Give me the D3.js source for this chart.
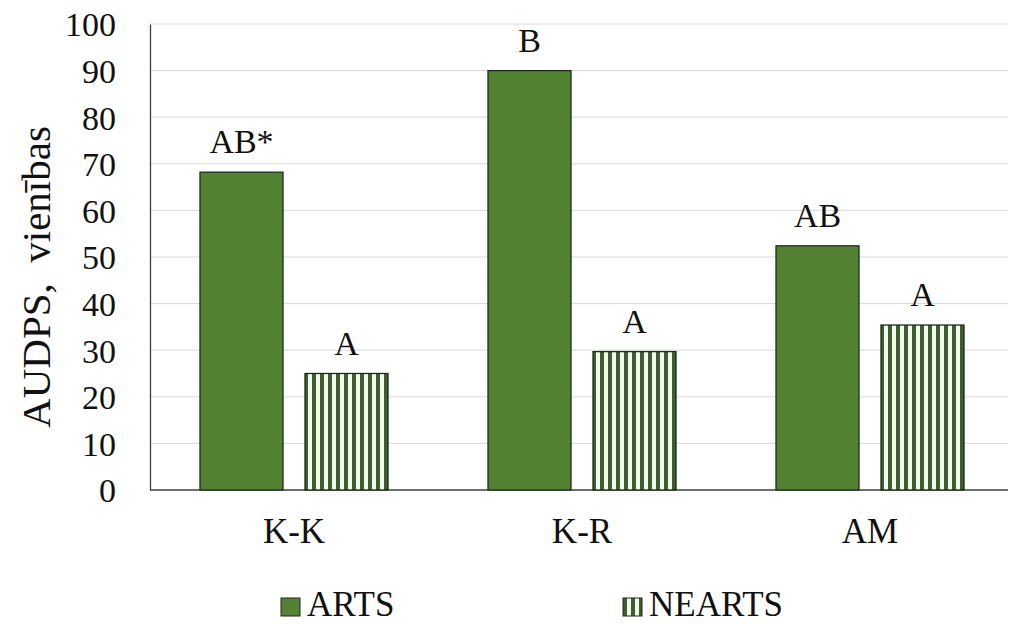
<!DOCTYPE html>
<html>
<head>
<meta charset="utf-8">
<script src="https://cdn.jsdelivr.net/npm/d3@7"></script>
<style>
  html, body { margin: 0; padding: 0; background: #fff; }
  svg { display: block; }
  text { font-family: "Liberation Serif", "Times New Roman", serif; fill: #111; }
</style>
</head>
<body>
<svg id="chart" width="1013" height="624"></svg>
<script>
// Data
const categories = ["K-K", "K-R", "AM"];
const seriesNames = ["ARTS", "NEARTS"];
const artsValues = [68.2, 90, 52.4];
const neartsValues = [25, 29.7, 35.4];
const artsLabels = ["AB*", "B", "AB"];
const neartsLabels = ["A", "A", "A"];
const yTicks = [0, 10, 20, 30, 40, 50, 60, 70, 80, 90, 100];

const FONT = '"Liberation Serif", "Times New Roman", serif';
const svg = d3.select("#chart");

const x = d3.scaleBand().domain(categories).range([150, 1014]).paddingInner(0).paddingOuter(0);
const y = d3.scaleLinear().domain([0, 100]).range([490, 24]);

const barW = 83, gap = 22;

// Vertical stripe fill for NEARTS
const defs = svg.append("defs");
const pat = defs.append("pattern")
  .attr("id", "vstripes")
  .attr("patternUnits", "userSpaceOnUse")
  .attr("width", 8).attr("height", 8);
pat.append("rect").attr("width", 8).attr("height", 8).attr("fill", "#f3f9ef");
pat.append("rect").attr("x", 0).attr("width", 4).attr("height", 8).attr("fill", "#3d5f2d");

// Gridlines
svg.append("g")
  .selectAll("line")
  .data(yTicks.filter(d => d > 0))
  .join("line")
  .attr("x1", 150).attr("x2", 1008)
  .attr("y1", d => y(d)).attr("y2", d => y(d))
  .attr("stroke", "#d9d9d9").attr("stroke-width", 1);

// Y axis
const yAxis = d3.axisLeft(y).tickValues(yTicks).tickSize(0);
const gy = svg.append("g").attr("transform", "translate(150,0)").call(yAxis);
gy.attr("font-family", null).attr("font-size", null);
gy.select(".domain").attr("stroke", "#404040").attr("stroke-width", 1.3);
gy.selectAll("text")
  .style("font-family", FONT)
  .style("font-size", "34px").attr("fill", "#111")
  .attr("text-anchor", "end").attr("x", -34).attr("dy", "0.35em");

// X axis
const xAxis = d3.axisBottom(x).tickSize(0);
const gx = svg.append("g").attr("transform", "translate(0,490)").call(xAxis);
gx.attr("font-family", null).attr("font-size", null);
gx.select(".domain").remove();
svg.append("line").attr("x1", 150).attr("x2", 1008).attr("y1", 490).attr("y2", 490)
  .attr("stroke", "#404040").attr("stroke-width", 1.3);
gx.selectAll("text")
  .style("font-family", FONT)
  .style("font-size", "35px").attr("fill", "#111")
  .attr("y", 53).attr("dy", null);

// Bars
const groupW = barW * 2 + gap;
const rows = categories.map((c, i) => ({ c, i }));
const xArts = d => x(d.c) + x.bandwidth() / 2 - groupW / 2;
const xNearts = d => xArts(d) + barW + gap;

svg.append("g").selectAll("rect")
  .data(rows).join("rect")
  .attr("x", d => xArts(d)).attr("width", barW)
  .attr("y", d => y(artsValues[d.i])).attr("height", d => y(0) - y(artsValues[d.i]))
  .attr("fill", "#548235").attr("stroke", "#1f2a18").attr("stroke-width", 1.3);

svg.append("g").selectAll("rect")
  .data(rows).join("rect")
  .attr("x", d => xNearts(d)).attr("width", barW)
  .attr("y", d => y(neartsValues[d.i])).attr("height", d => y(0) - y(neartsValues[d.i]))
  .attr("fill", "url(#vstripes)").attr("stroke", "#1f2a18").attr("stroke-width", 1.3);

// Significance letters above bars
svg.append("g").selectAll("text")
  .data(rows).join("text")
  .attr("x", d => xArts(d) + barW / 2)
  .attr("y", d => y(artsValues[d.i]) - 19)
  .attr("text-anchor", "middle").style("font-size", "34px")
  .text(d => artsLabels[d.i]);

svg.append("g").selectAll("text")
  .data(rows).join("text")
  .attr("x", d => xNearts(d) + barW / 2)
  .attr("y", d => y(neartsValues[d.i]) - 19)
  .attr("text-anchor", "middle").style("font-size", "34px")
  .text(d => neartsLabels[d.i]);

// Y axis title
svg.append("text")
  .attr("transform", "translate(50,277) rotate(-90)")
  .attr("text-anchor", "middle").style("font-size", "41px")
  .style("white-space", "pre")
  .text("AUDPS,  vienības");

// Legend
const legend = [
  { name: seriesNames[0], x: 281, fill: "#548235" },
  { name: seriesNames[1], x: 623, fill: "url(#vstripes)" }
];
const lg = svg.append("g").selectAll("g").data(legend).join("g")
  .attr("transform", d => `translate(${d.x},598)`);
lg.append("rect").attr("width", 19).attr("height", 18)
  .attr("fill", d => d.fill).attr("stroke", "#1f2a18").attr("stroke-width", 1);
lg.append("text").attr("x", 26).attr("y", 18)
  .style("font-size", "35px").text(d => d.name);
</script>
</body>
</html>
